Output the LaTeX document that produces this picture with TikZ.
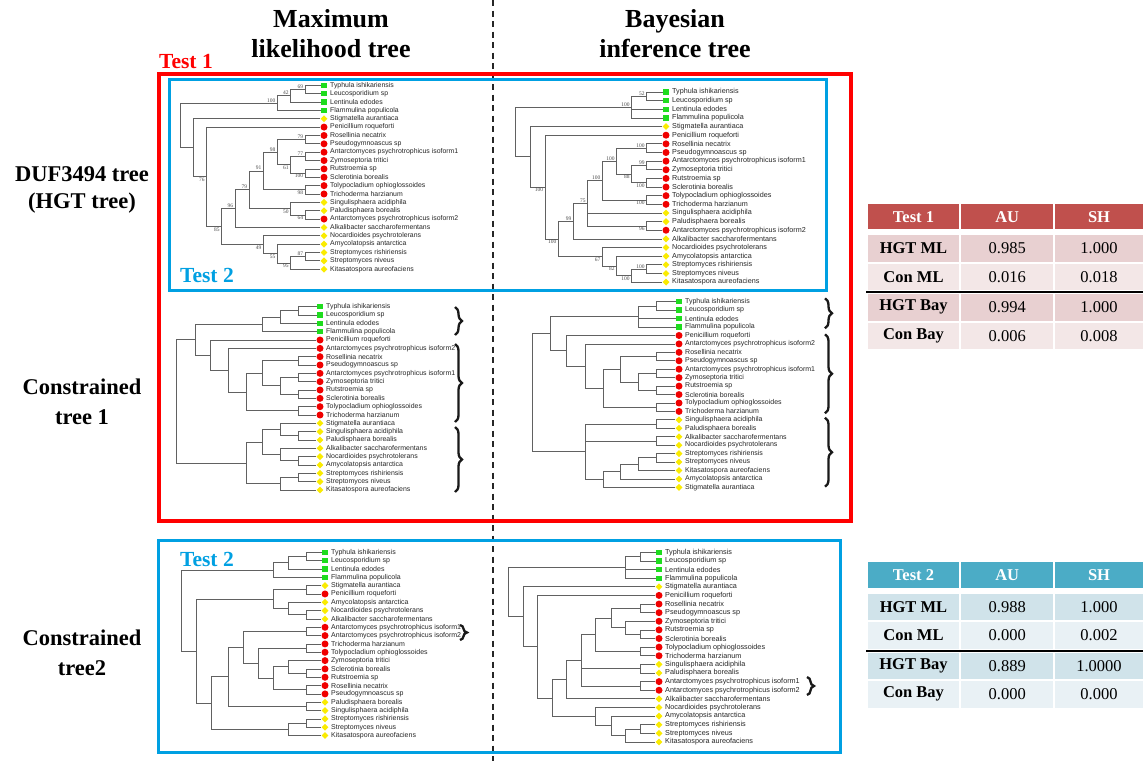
\documentclass[tikz,border=0pt]{standalone}
\usepackage{fontspec}
\setmainfont{Liberation Serif}
\newfontfamily\lsans{Liberation Sans}
\usetikzlibrary{calc,shapes.geometric,decorations.pathreplacing}
\definecolor{tred}{RGB}{255,0,0}
\definecolor{tblue}{RGB}{0,160,226}
\definecolor{mgreen}{RGB}{30,220,30}
\definecolor{mred}{RGB}{240,0,0}
\definecolor{myel}{RGB}{250,235,0}
\definecolor{hred}{RGB}{192,80,77}
\definecolor{rowra}{RGB}{232,208,209}
\definecolor{rowrb}{RGB}{243,231,231}
\definecolor{hblue}{RGB}{75,172,198}
\definecolor{rowba}{RGB}{208,227,234}
\definecolor{rowbb}{RGB}{233,241,245}
\newcommand\tfont{\fontsize{16.5}{18}\selectfont}
\def\LF{\fontsize{6.9}{7}\lsans}
\tikzset{
 br/.style={draw=black!62, line width=0.75pt},
 gsq/.style={rectangle, fill=mgreen, minimum size=5.3pt, inner sep=0pt},
 rci/.style={circle, fill=mred, minimum size=7pt, inner sep=0pt},
 ydi/.style={diamond, fill=myel, minimum width=7pt, minimum height=7pt, inner sep=0pt},
 lt/.style={font=\LF, inner sep=0pt, text=black!85},
 bs/.style={font=\fontsize{5.5}{6}\selectfont, inner sep=0.8pt, text=black!70},
 brc/.style={decorate, decoration={brace, amplitude=7pt}, line width=2.3pt, draw=black!90},
 hdr/.style={font=\fontsize{26}{30}\selectfont\bfseries, anchor=base, inner sep=0pt},
 side/.style={font=\fontsize{22.5}{29}\selectfont\bfseries, anchor=base, inner sep=0pt},
 testlbl/.style={font=\fontsize{21.5}{24}\selectfont\bfseries, anchor=base west, inner sep=0pt},
 tcell/.style={inner sep=0pt, font=\tfont},
 thd/.style={tcell, text=white, font=\tfont\bfseries},
 tbo/.style={tcell, font=\tfont\bfseries},
 colwa/.style={minimum width=91.6pt},
 colwb/.style={minimum width=92.3pt},
 colwc/.style={minimum width=88pt},
}
\newcommand\lf[3]{\node[#2] (\P#1) at (\MX,#1) {}; \node[lt,anchor=west] (\P#1t) at ([xshift=6pt]\P#1.center) {#3};}
\newcommand\tn[4]{\coordinate (\P#1m) at ($(\P#3)!.5!(\P#4)$); \coordinate (\P#1) at (#2,0 |- \P#1m); \draw[br] (\P#1) |- (\P#3); \draw[br] (\P#1) |- (\P#4);}
\newcommand\tp[5]{\coordinate (\P#1m) at ($(\P#3)!.5!(\P#5)$); \coordinate (\P#1) at (#2,0 |- \P#1m); \draw[br] (\P#1) |- (\P#3); \draw[br] (\P#1) |- (\P#4); \draw[br] (\P#1) |- (\P#5);}
\newcommand\lu[2]{\node[bs,anchor=south east] at ([xshift=-1pt]\P#1) {#2};}
\newcommand\ld[2]{\node[bs,anchor=north east] at ([xshift=-1pt]\P#1) {#2};}
\begin{document}
\begin{tikzpicture}[x=1pt,y=-1pt]
\useasboundingbox (0,0) rectangle (1143,761);
\fill[white] (0,0) rectangle (1143,761);
% dashed divider
\draw[black!85, line width=1.3pt, dash pattern=on 6pt off 4.5pt] (493,0) -- (493,761);
% headers
\node[hdr] (hml1) at (331,27.3) {Maximum};
\node[hdr] (hml2) at (331,57.3) {likelihood tree};
\node[hdr] (hbi1) at (675,27.3) {Bayesian};
\node[hdr] (hbi2) at (675,57.3) {inference tree};
% side labels
\node[side] (s1) at (82,181) {DUF3494 tree};
\node[side] (s2) at (82,208) {(HGT tree)};
\node[side] (s3) at (82,394) {Constrained};
\node[side] (s4) at (82,424) {tree 1};
\node[side] (s5) at (82,645) {Constrained};
\node[side] (s6) at (82,675) {tree2};
% boxes
\draw[tred, line width=3.5pt] (159,74) rectangle (851,521);
\draw[tblue, line width=3pt] (169,79) rectangle (826,290);
\draw[tblue, line width=3pt] (158,540) rectangle (840,752);
\node[testlbl, text=tred] (lt1) at (159,68) {Test 1};
\node[testlbl, text=tblue] (lt2a) at (180,282) {Test 2};
\node[testlbl, text=tblue] (lt2b) at (180,566.7) {Test 2};

% ===== Tree A: ML HGT =====
\begin{scope}[shift={(0pt,-85.3pt)}, x=1pt, y=-8.36pt]
\def\P{A}\def\MX{324}\def\LF{\fontsize{6.9}{7}\lsans}
\lf{0}{gsq}{Typhula ishikariensis}
\lf{1}{gsq}{Leucosporidium sp}
\lf{2}{gsq}{Lentinula edodes}
\lf{3}{gsq}{Flammulina populicola}
\lf{4}{ydi}{Stigmatella aurantiaca}
\lf{5}{rci}{Penicillium roqueforti}
\lf{6}{rci}{Rosellinia necatrix}
\lf{7}{rci}{Pseudogymnoascus sp}
\lf{8}{rci}{Antarctomyces psychrotrophicus isoform1}
\lf{9}{rci}{Zymoseptoria tritici}
\lf{10}{rci}{Rutstroemia sp}
\lf{11}{rci}{Sclerotinia borealis}
\lf{12}{rci}{Tolypocladium ophioglossoides}
\lf{13}{rci}{Trichoderma harzianum}
\lf{14}{ydi}{Singulisphaera acidiphila}
\lf{15}{ydi}{Paludisphaera borealis}
\lf{16}{rci}{Antarctomyces psychrotrophicus isoform2}
\lf{17}{ydi}{Alkalibacter saccharofermentans}
\lf{18}{ydi}{Nocardioides psychrotolerans}
\lf{19}{ydi}{Amycolatopsis antarctica}
\lf{20}{ydi}{Streptomyces rishiriensis}
\lf{21}{ydi}{Streptomyces niveus}
\lf{22}{ydi}{Kitasatospora aureofaciens}
\tn{a1}{305}{0}{1}
\tn{a2}{290.7}{a1}{2}
\tn{a3}{277.3}{a2}{3}
\tn{a4}{305}{6}{7}
\tn{a5}{305}{8}{9}
\tn{a6}{305}{10}{11}
\tn{a7}{290.7}{a5}{a6}
\tn{a8}{277.3}{a4}{a7}
\tn{a9}{305}{12}{13}
\tn{a10}{263.3}{a8}{a9}
\tn{a11}{305}{15}{16}
\tn{a12}{290.7}{14}{a11}
\tn{a13}{249}{a10}{a12}
\tn{a14}{235}{a13}{17}
\tn{a15}{305}{20}{21}
\tn{a16}{290.7}{a15}{22}
\tn{a17}{277.3}{19}{a16}
\tn{a18}{263.3}{18}{a17}
\tn{a19}{221.7}{a14}{a18}
\tn{a20}{206.7}{5}{a19}
\tn{a21}{193.3}{4}{a20}
\tn{root}{180}{a3}{a21}
\lu{a1}{69}\lu{a2}{42}\lu{a3}{100}\lu{a4}{79}\lu{a5}{77}\ld{a6}{100}\ld{a7}{61}
\lu{a8}{98}\ld{a9}{98}\lu{a10}{91}\ld{a11}{64}\ld{a12}{50}\lu{a13}{79}\lu{a14}{96}
\lu{a15}{87}\ld{a16}{95}\ld{a17}{55}\ld{a18}{49}\ld{a19}{85}\ld{a20}{76}
\end{scope}

% ===== Tree B: Bayesian HGT =====
\begin{scope}[shift={(0pt,-92pt)}, x=1pt, y=-8.64pt]
\def\P{B}\def\MX{666}\def\LF{\fontsize{7.2}{7.5}\lsans}
\lf{0}{gsq}{Typhula ishikariensis}
\lf{1}{gsq}{Leucosporidium sp}
\lf{2}{gsq}{Lentinula edodes}
\lf{3}{gsq}{Flammulina populicola}
\lf{4}{ydi}{Stigmatella aurantiaca}
\lf{5}{rci}{Penicillium roqueforti}
\lf{6}{rci}{Rosellinia necatrix}
\lf{7}{rci}{Pseudogymnoascus sp}
\lf{8}{rci}{Antarctomyces psychrotrophicus isoform1}
\lf{9}{rci}{Zymoseptoria tritici}
\lf{10}{rci}{Rutstroemia sp}
\lf{11}{rci}{Sclerotinia borealis}
\lf{12}{rci}{Tolypocladium ophioglossoides}
\lf{13}{rci}{Trichoderma harzianum}
\lf{14}{ydi}{Singulisphaera acidiphila}
\lf{15}{ydi}{Paludisphaera borealis}
\lf{16}{rci}{Antarctomyces psychrotrophicus isoform2}
\lf{17}{ydi}{Alkalibacter saccharofermentans}
\lf{18}{ydi}{Nocardioides psychrotolerans}
\lf{19}{ydi}{Amycolatopsis antarctica}
\lf{20}{ydi}{Streptomyces rishiriensis}
\lf{21}{ydi}{Streptomyces niveus}
\lf{22}{ydi}{Kitasatospora aureofaciens}
\tn{b1}{646.7}{0}{1}
\tp{b2}{631.7}{b1}{2}{3}
\tn{b3}{646.7}{6}{7}
\tn{b4}{646.7}{8}{9}
\tn{b5}{646.7}{10}{11}
\tn{b6}{631.7}{b4}{b5}
\tn{b7}{616.7}{b3}{b6}
\tn{b8}{646.7}{12}{13}
\tn{b9}{602.3}{b7}{b8}
\tn{b10}{646.7}{15}{16}
\tp{b11}{587.7}{b9}{14}{b10}
\tn{b12}{573.3}{b11}{17}
\tn{b13}{646.7}{20}{21}
\tn{b14}{631.7}{b13}{22}
\tn{b15}{616.7}{19}{b14}
\tn{b16}{602.3}{18}{b15}
\tn{b17}{558.3}{b12}{b16}
\tn{b18}{545}{5}{b17}
\tn{b19}{530}{4}{b18}
\tn{root}{515.7}{b2}{b19}
\lu{b1}{52}\lu{b2}{100}\lu{b3}{100}\lu{b4}{99}\ld{b5}{100}\ld{b6}{88}\lu{b7}{100}
\ld{b8}{100}\lu{b9}{100}\ld{b10}{96}\lu{b11}{75}\lu{b12}{99}\lu{b13}{100}\ld{b14}{100}
\ld{b15}{82}\ld{b16}{67}\ld{b17}{100}\ld{b18}{100}
\end{scope}

% ===== Tree C: ML constrained 1 =====
\begin{scope}[shift={(0pt,-306.7pt)}, x=1pt, y=-8.33pt]
\def\P{C}\def\MX{320}\def\LF{\fontsize{6.95}{7}\lsans}
\lf{0}{gsq}{Typhula ishikariensis}
\lf{1}{gsq}{Leucosporidium sp}
\lf{2}{gsq}{Lentinula edodes}
\lf{3}{gsq}{Flammulina populicola}
\lf{4}{rci}{Penicillium roqueforti}
\lf{5}{rci}{Antarctomyces psychrotrophicus isoform2}
\lf{6}{rci}{Rosellinia necatrix}
\lf{7}{rci}{Pseudogymnoascus sp}
\lf{8}{rci}{Antarctomyces psychrotrophicus isoform1}
\lf{9}{rci}{Zymoseptoria tritici}
\lf{10}{rci}{Rutstroemia sp}
\lf{11}{rci}{Sclerotinia borealis}
\lf{12}{rci}{Tolypocladium ophioglossoides}
\lf{13}{rci}{Trichoderma harzianum}
\lf{14}{ydi}{Stigmatella aurantiaca}
\lf{15}{ydi}{Singulisphaera acidiphila}
\lf{16}{ydi}{Paludisphaera borealis}
\lf{17}{ydi}{Alkalibacter saccharofermentans}
\lf{18}{ydi}{Nocardioides psychrotolerans}
\lf{19}{ydi}{Amycolatopsis antarctica}
\lf{20}{ydi}{Streptomyces rishiriensis}
\lf{21}{ydi}{Streptomyces niveus}
\lf{22}{ydi}{Kitasatospora aureofaciens}
\tn{c1}{298.3}{0}{1}
\tn{c2}{280}{c1}{2}
\tn{c3}{262.5}{c2}{3}
\tn{c4}{298.3}{6}{7}
\tn{c5}{298.3}{8}{9}
\tn{c6}{298.3}{10}{11}
\tn{c7}{280}{c5}{c6}
\tn{c8}{262.5}{c4}{c7}
\tn{c9}{298.3}{12}{13}
\tn{c10}{246.7}{c8}{c9}
\tn{c11}{228.3}{5}{c10}
\tn{c12}{210}{4}{c11}
\tn{c13}{195}{c3}{c12}
\tn{c14}{298.3}{15}{16}
\tn{c15}{280}{14}{c14}
\tn{c16}{298.3}{18}{19}
\tn{c17}{280}{17}{c16}
\tn{c18}{262.5}{c15}{c17}
\tn{c19}{298.3}{20}{21}
\tn{c20}{280}{c19}{22}
\tn{c21}{246.7}{c18}{c20}
\tn{root}{176}{c13}{c21}
\end{scope}
\coordinate (Cb1t) at (455,307); \coordinate (Cb1b) at (455,335);
\coordinate (Cb2t) at (455,344); \coordinate (Cb2b) at (455,422);
\coordinate (Cb3t) at (455,427); \coordinate (Cb3b) at (455,492);
\draw[brc] (Cb1t) -- (Cb1b);
\draw[brc] (Cb2t) -- (Cb2b);
\draw[brc] (Cb3t) -- (Cb3b);

% ===== Tree D: Bayesian constrained 1 =====
\begin{scope}[shift={(0pt,-301.7pt)}, x=1pt, y=-8.44pt]
\def\P{D}\def\MX{679}\def\LF{\fontsize{7.0}{7.2}\lsans}
\lf{0}{gsq}{Typhula ishikariensis}
\lf{1}{gsq}{Leucosporidium sp}
\lf{2}{gsq}{Lentinula edodes}
\lf{3}{gsq}{Flammulina populicola}
\lf{4}{rci}{Penicillium roqueforti}
\lf{5}{rci}{Antarctomyces psychrotrophicus isoform2}
\lf{6}{rci}{Rosellinia necatrix}
\lf{7}{rci}{Pseudogymnoascus sp}
\lf{8}{rci}{Antarctomyces psychrotrophicus isoform1}
\lf{9}{rci}{Zymoseptoria tritici}
\lf{10}{rci}{Rutstroemia sp}
\lf{11}{rci}{Sclerotinia borealis}
\lf{12}{rci}{Tolypocladium ophioglossoides}
\lf{13}{rci}{Trichoderma harzianum}
\lf{14}{ydi}{Singulisphaera acidiphila}
\lf{15}{ydi}{Paludisphaera borealis}
\lf{16}{ydi}{Alkalibacter saccharofermentans}
\lf{17}{ydi}{Nocardioides psychrotolerans}
\lf{18}{ydi}{Streptomyces rishiriensis}
\lf{19}{ydi}{Streptomyces niveus}
\lf{20}{ydi}{Kitasatospora aureofaciens}
\lf{21}{ydi}{Amycolatopsis antarctica}
\lf{22}{ydi}{Stigmatella aurantiaca}
\tn{d1}{656.7}{0}{1}
\tp{d2}{638.3}{d1}{2}{3}
\tn{d3}{656.7}{6}{7}
\tn{d4}{656.7}{8}{9}
\tn{d5}{656.7}{10}{11}
\tn{d6}{638.3}{d4}{d5}
\tn{d7}{620}{d3}{d6}
\tn{d8}{656.7}{12}{13}
\tn{d9}{603.3}{d7}{d8}
\tn{d10}{585}{5}{d9}
\tn{d11}{566.7}{4}{d10}
\tn{d12}{550}{d2}{d11}
\tn{d13}{656.7}{14}{15}
\tn{d14}{656.7}{16}{17}
\tn{d15}{656.7}{18}{19}
\tn{d16}{638.3}{d15}{20}
\tn{d17}{620}{d16}{21}
\tn{d18}{603.3}{d17}{22}
\tp{d19}{585}{d13}{d14}{d18}
\tn{root}{532.3}{d12}{d19}
\end{scope}
\coordinate (Db1t) at (825,298.3); \coordinate (Db1b) at (825,328.3);
\coordinate (Db2t) at (825,334.3); \coordinate (Db2b) at (825,413.3);
\coordinate (Db3t) at (825,417.7); \coordinate (Db3b) at (825,486.7);
\draw[brc] (Db1t) -- (Db1b);
\draw[brc] (Db2t) -- (Db2b);
\draw[brc] (Db3t) -- (Db3b);

% ===== Tree E: ML constrained 2 =====
\begin{scope}[shift={(0pt,-552.3pt)}, x=1pt, y=-8.33pt]
\def\P{E}\def\MX{325}\def\LF{\fontsize{7.0}{7.2}\lsans}
\lf{0}{gsq}{Typhula ishikariensis}
\lf{1}{gsq}{Leucosporidium sp}
\lf{2}{gsq}{Lentinula edodes}
\lf{3}{gsq}{Flammulina populicola}
\lf{4}{ydi}{Stigmatella aurantiaca}
\lf{5}{rci}{Penicillium roqueforti}
\lf{6}{ydi}{Amycolatopsis antarctica}
\lf{7}{ydi}{Nocardioides psychrotolerans}
\lf{8}{ydi}{Alkalibacter saccharofermentans}
\lf{9}{rci}{Antarctomyces psychrotrophicus isoform1}
\lf{10}{rci}{Antarctomyces psychrotrophicus isoform2}
\lf{11}{rci}{Trichoderma harzianum}
\lf{12}{rci}{Tolypocladium ophioglossoides}
\lf{13}{rci}{Zymoseptoria tritici}
\lf{14}{rci}{Sclerotinia borealis}
\lf{15}{rci}{Rutstroemia sp}
\lf{16}{rci}{Rosellinia necatrix}
\lf{17}{rci}{Pseudogymnoascus sp}
\lf{18}{ydi}{Paludisphaera borealis}
\lf{19}{ydi}{Singulisphaera acidiphila}
\lf{20}{ydi}{Streptomyces rishiriensis}
\lf{21}{ydi}{Streptomyces niveus}
\lf{22}{ydi}{Kitasatospora aureofaciens}
\tn{e1}{306.7}{0}{1}
\tn{e2}{288.3}{e1}{2}
\tn{e3}{273.3}{e2}{3}
\tn{e4}{306.7}{4}{5}
\tn{e5}{306.7}{7}{8}
\tn{e6}{288.3}{6}{e5}
\tn{e7}{273.3}{e4}{e6}
\tn{e8}{306.7}{9}{10}
\tn{e9}{306.7}{11}{12}
\tn{e10}{306.7}{14}{15}
\tn{e11}{288.3}{13}{e10}
\tn{e12}{306.7}{16}{17}
\tn{e13}{273.3}{e11}{e12}
\tn{e14}{258.3}{e9}{e13}
\tn{e15}{243.3}{e8}{e14}
\tn{e16}{306.7}{18}{19}
\tn{e17}{228.3}{e15}{e16}
\tn{e18}{306.7}{20}{21}
\tn{e19}{288.3}{e18}{22}
\tn{e20}{211.7}{e17}{e19}
\tn{e21}{196.7}{e7}{e20}
\tn{root}{181.7}{e3}{e21}
\end{scope}
\coordinate (Eb1t) at (460,625); \coordinate (Eb1b) at (460,640);
\draw[brc] (Eb1t) -- (Eb1b);

% ===== Tree F: Bayesian constrained 2 =====
\begin{scope}[shift={(0pt,-552.3pt)}, x=1pt, y=-8.62pt]
\def\P{F}\def\MX{659}\def\LF{\fontsize{7.25}{7.5}\lsans}
\lf{0}{gsq}{Typhula ishikariensis}
\lf{1}{gsq}{Leucosporidium sp}
\lf{2}{gsq}{Lentinula edodes}
\lf{3}{gsq}{Flammulina populicola}
\lf{4}{ydi}{Stigmatella aurantiaca}
\lf{5}{rci}{Penicillium roqueforti}
\lf{6}{rci}{Rosellinia necatrix}
\lf{7}{rci}{Pseudogymnoascus sp}
\lf{8}{rci}{Zymoseptoria tritici}
\lf{9}{rci}{Rutstroemia sp}
\lf{10}{rci}{Sclerotinia borealis}
\lf{11}{rci}{Tolypocladium ophioglossoides}
\lf{12}{rci}{Trichoderma harzianum}
\lf{13}{ydi}{Singulisphaera acidiphila}
\lf{14}{ydi}{Paludisphaera borealis}
\lf{15}{rci}{Antarctomyces psychrotrophicus isoform1}
\lf{16}{rci}{Antarctomyces psychrotrophicus isoform2}
\lf{17}{ydi}{Alkalibacter saccharofermentans}
\lf{18}{ydi}{Nocardioides psychrotolerans}
\lf{19}{ydi}{Amycolatopsis antarctica}
\lf{20}{ydi}{Streptomyces rishiriensis}
\lf{21}{ydi}{Streptomyces niveus}
\lf{22}{ydi}{Kitasatospora aureofaciens}
\tn{f1}{640}{0}{1}
\tp{f2}{625.7}{f1}{2}{3}
\tn{f3}{640}{6}{7}
\tn{f4}{640}{9}{10}
\tn{f5}{625.7}{8}{f4}
\tn{f6}{611}{f3}{f5}
\tn{f7}{640}{11}{12}
\tn{f8}{595.7}{f6}{f7}
\tn{f9}{640}{13}{14}
\tn{f10}{640}{15}{16}
\tp{f11}{581.7}{f8}{f9}{f10}
\tn{f12}{566.7}{f11}{17}
\tn{f13}{640}{20}{21}
\tn{f14}{625.7}{f13}{22}
\tn{f15}{611}{19}{f14}
\tn{f16}{595.7}{18}{f15}
\tn{f17}{552.3}{f12}{f16}
\tn{f18}{537.7}{5}{f17}
\tn{f19}{523.3}{4}{f18}
\tn{root}{508.3}{f2}{f19}
\end{scope}
\coordinate (Fb1t) at (807,677); \coordinate (Fb1b) at (807,695);
\draw[brc] (Fb1t) -- (Fb1b);

% ===== Table Test 1 =====
\node[thd, colwa, fill=hred, minimum height=25pt] (ta1) at (913.5,216.75) {Test 1};
\node[thd, colwb, fill=hred, minimum height=25pt] (ta2) at (1007.2,216.75) {AU};
\node[thd, colwc, fill=hred, minimum height=25pt] (ta3) at (1099,216.75) {SH};
\node[tbo, colwa, fill=rowra, minimum height=26.5pt] (tb1) at (913.5,248.25) {HGT ML};
\node[tcell, colwb, fill=rowra, minimum height=26.5pt] (tb2) at (1007.2,248.25) {0.985};
\node[tcell, colwc, fill=rowra, minimum height=26.5pt] (tb3) at (1099,248.25) {1.000};
\node[tbo, colwa, fill=rowrb, minimum height=26.5pt] (tc1) at (913.5,276.75) {Con ML};
\node[tcell, colwb, fill=rowrb, minimum height=26.5pt] (tc2) at (1007.2,276.75) {0.016};
\node[tcell, colwc, fill=rowrb, minimum height=26.5pt] (tc3) at (1099,276.75) {0.018};
\node[tbo, colwa, fill=rowra, minimum height=26.5pt] (td1) at (913.5,307.25) {HGT Bay};
\node[tcell, colwb, fill=rowra, minimum height=26.5pt] (td2) at (1007.2,307.25) {0.994};
\node[tcell, colwc, fill=rowra, minimum height=26.5pt] (td3) at (1099,307.25) {1.000};
\node[tbo, colwa, fill=rowrb, minimum height=26.5pt] (te1) at (913.5,335.75) {Con Bay};
\node[tcell, colwb, fill=rowrb, minimum height=26.5pt] (te2) at (1007.2,335.75) {0.006};
\node[tcell, colwc, fill=rowrb, minimum height=26.5pt] (te3) at (1099,335.75) {0.008};
\draw[black, line width=1.5pt] (866,292.1) -- (1143,292.1);

% ===== Table Test 2 =====
\node[thd, colwa, fill=hblue, minimum height=26pt] (ua1) at (913.5,575) {Test 2};
\node[thd, colwb, fill=hblue, minimum height=26pt] (ua2) at (1007.2,575) {AU};
\node[thd, colwc, fill=hblue, minimum height=26pt] (ua3) at (1099,575) {SH};
\node[tbo, colwa, fill=rowba, minimum height=26.5pt] (ub1) at (913.5,606.75) {HGT ML};
\node[tcell, colwb, fill=rowba, minimum height=26.5pt] (ub2) at (1007.2,606.75) {0.988};
\node[tcell, colwc, fill=rowba, minimum height=26.5pt] (ub3) at (1099,606.75) {1.000};
\node[tbo, colwa, fill=rowbb, minimum height=26.5pt] (uc1) at (913.5,635.25) {Con ML};
\node[tcell, colwb, fill=rowbb, minimum height=26.5pt] (uc2) at (1007.2,635.25) {0.000};
\node[tcell, colwc, fill=rowbb, minimum height=26.5pt] (uc3) at (1099,635.25) {0.002};
\node[tbo, colwa, fill=rowba, minimum height=26.5pt] (ud1) at (913.5,665.75) {HGT Bay};
\node[tcell, colwb, fill=rowba, minimum height=26.5pt] (ud2) at (1007.2,665.75) {0.889};
\node[tcell, colwc, fill=rowba, minimum height=26.5pt] (ud3) at (1099,665.75) {1.0000};
\node[tbo, colwa, fill=rowbb, minimum height=26.5pt] (ue1) at (913.5,694.25) {Con Bay};
\node[tcell, colwb, fill=rowbb, minimum height=26.5pt] (ue2) at (1007.2,694.25) {0.000};
\node[tcell, colwc, fill=rowbb, minimum height=26.5pt] (ue3) at (1099,694.25) {0.000};
\draw[black, line width=1.5pt] (866,650.8) -- (1143,650.8);
\end{tikzpicture}
\end{document}
